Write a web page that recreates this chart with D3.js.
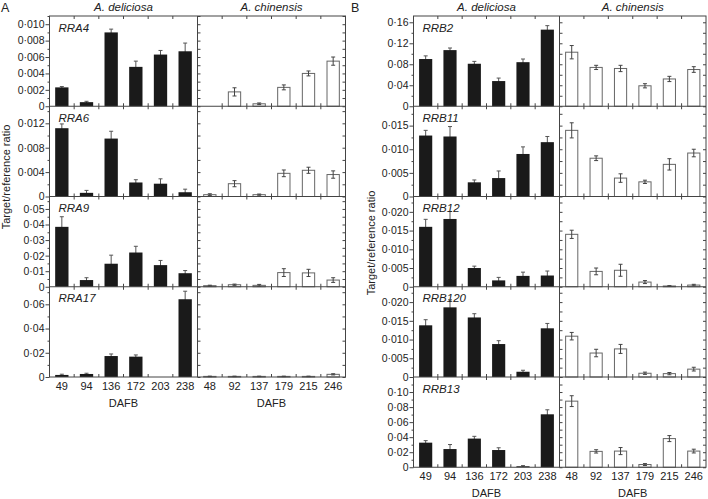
<!DOCTYPE html>
<html><head><meta charset="utf-8">
<script src="https://cdn.jsdelivr.net/npm/d3@7"></script>
<style>body{margin:0;background:#fff}svg{display:block;font-family:"Liberation Sans",Arial,sans-serif}</style>
</head><body><svg id="c" width="708" height="499"></svg>
<script>
// ---- data ----
const dafbDeliciosa = ["49","94","136","172","203","238"];
const dafbChinensis = ["48","92","137","179","215","246"];
const genesA = ["RRA4","RRA6","RRA9","RRA17"];
const genesB = ["RRB2","RRB11","RRB12","RRB120","RRB13"];

const rra4Del = [0.0023,0.0005,0.0090,0.0048,0.0063,0.0067];
const rra4DelErr = [0.0001,0.0001,0.0004,0.0007,0.0005,0.0010];
const rra4Chi = [0,0.00175,0.0003,0.0023,0.0040,0.0055];
const rra4ChiErr = [0,0.0005,0.0001,0.0003,0.0003,0.0005];
const rra6Del = [0.0112,0.0006,0.0095,0.0023,0.0021,0.0007];
const rra6DelErr = [0.0007,0.0004,0.0012,0.00045,0.0008,0.0005];
const rra6Chi = [0.0003,0.0021,0.0003,0.0038,0.0043,0.0036];
const rra6ChiErr = [0.00015,0.0005,0.0001,0.00055,0.0005,0.0006];
const rra9Del = [0.0385,0.0043,0.0148,0.0220,0.0139,0.0087];
const rra9DelErr = [0.0065,0.0015,0.0055,0.0040,0.0030,0.0017];
const rra9Chi = [0.0007,0.0013,0.0009,0.0091,0.0089,0.0043];
const rra9ChiErr = [0.0003,0.0004,0.0006,0.0025,0.0023,0.0015];
const rra17Del = [0.0017,0.0025,0.0173,0.0168,0,0.0642];
const rra17DelErr = [0.0006,0.0006,0.0017,0.0014,0,0.0066];
const rra17Chi = [0.0005,0.0005,0.0005,0.0005,0.0005,0.0022];
const rra17ChiErr = [0.0002,0.0002,0.0002,0.0002,0.0002,0.0005];

const rrb2Del = [0.090,0.107,0.081,0.048,0.084,0.146];
const rrb2DelErr = [0.006,0.004,0.0045,0.0057,0.006,0.0076];
const rrb2Chi = [0.103,0.074,0.072,0.039,0.052,0.070];
const rrb2ChiErr = [0.0127,0.004,0.006,0.004,0.005,0.0054];
const rrb11Del = [0.0129,0.0127,0.0030,0.0039,0.0090,0.0115];
const rrb11DelErr = [0.0011,0.0021,0.0005,0.0015,0.0015,0.0012];
const rrb11Chi = [0.0140,0.0081,0.0039,0.0031,0.0068,0.0092];
const rrb11ChiErr = [0.0016,0.0005,0.0009,0.00035,0.0012,0.0008];
const rrb12Del = [0.0160,0.0181,0.0050,0.0017,0.0029,0.0030];
const rrb12DelErr = [0.002,0.002,0.0005,0.0008,0.001,0.0012];
const rrb12Chi = [0.0140,0.0041,0.0044,0.00125,0.0002,0.00045];
const rrb12ChiErr = [0.0011,0.0009,0.0016,0.0004,0.0001,0.0002];
const rrb120Del = [0.0138,0.0186,0.0159,0.0088,0.0014,0.0130];
const rrb120DelErr = [0.0015,0.002,0.001,0.0009,0.0004,0.0013];
const rrb120Chi = [0.0109,0.0064,0.0075,0.0010,0.0009,0.0021];
const rrb120ChiErr = [0.001,0.001,0.0012,0.0003,0.0003,0.0005];
const rrb13Del = [0.0327,0.0242,0.0381,0.0229,0.0013,0.0704];
const rrb13DelErr = [0.0027,0.006,0.003,0.003,0.0009,0.006];
const rrb13Chi = [0.0879,0.0211,0.0215,0.0036,0.0381,0.0215];
const rrb13ChiErr = [0.0072,0.0022,0.0047,0.0013,0.004,0.0025];

// y-axis: domain max, major ticks, minor ticks, decimals
const yMaxA = [0.011,0.0148,0.058,0.0745];
const yMajorA = [[0,0.002,0.004,0.006,0.008,0.010],[0,0.004,0.008,0.012],[0,0.01,0.02,0.03,0.04,0.05],[0,0.02,0.04,0.06]];
const yMinorStepA = [0.001,0.002,0.005,0.01];
const yDecA = [3,3,2,2];
const yMaxB = [0.172,0.0191,0.0241,0.0241,0.12];
const yMajorB = [[0,0.04,0.08,0.12,0.16],[0,0.005,0.010,0.015],[0,0.005,0.010,0.015,0.020],[0,0.005,0.010,0.015,0.020],[0,0.02,0.04,0.06,0.08,0.10]];
const yMinorStepB = [0.02,0.0025,0.0025,0.0025,0.01];
const yDecB = [2,3,3,3,2];

const dataA = [[rra4Del,rra4DelErr,rra4Chi,rra4ChiErr],[rra6Del,rra6DelErr,rra6Chi,rra6ChiErr],[rra9Del,rra9DelErr,rra9Chi,rra9ChiErr],[rra17Del,rra17DelErr,rra17Chi,rra17ChiErr]];
const dataB = [[rrb2Del,rrb2DelErr,rrb2Chi,rrb2ChiErr],[rrb11Del,rrb11DelErr,rrb11Chi,rrb11ChiErr],[rrb12Del,rrb12DelErr,rrb12Chi,rrb12ChiErr],[rrb120Del,rrb120DelErr,rrb120Chi,rrb120ChiErr],[rrb13Del,rrb13DelErr,rrb13Chi,rrb13ChiErr]];

// ---- drawing ----
const svg = d3.select("#c");
const FRAME = "#444";
const fmt = dec => d => d === 0 ? "0" : d.toFixed(dec).replace(".", "\u00B7");

function panel(opt) {
  const {x0, xm, x1, top, rowH, genes, data, yMax, yMajor, yMinorStep, yDec, letter, letterX, ylabX, ylabY} = opt;
  const g = svg.append("g");
  const xD = d3.scaleBand().domain(dafbDeliciosa).range([x0, xm]).paddingInner(0.46).paddingOuter(0.23);
  const xC = d3.scaleBand().domain(dafbChinensis).range([xm, x1]).paddingInner(0.46).paddingOuter(0.23);
  const n = genes.length;
  const bottom = top + rowH * n;

  genes.forEach((gene, i) => {
    const yt = top + rowH * i, yb = yt + rowH;
    const y = d3.scaleLinear().domain([0, yMax[i]]).range([yb, yt]);
    const minors = d3.range(0, yMax[i] + 1e-9, yMinorStep[i]).filter(v => !yMajor[i].some(m => Math.abs(m - v) < 1e-9));
    const [dv, de, cv, ce] = data[i];

    // left axis major + labels
    g.append("g").attr("transform", `translate(${x0},0)`)
      .call(d3.axisLeft(y).tickValues(yMajor[i]).tickSize(4).tickPadding(1).tickFormat(fmt(yDec[i])))
      .call(a => a.select(".domain").remove())
      .call(a => a.selectAll("line").attr("stroke", FRAME))
      .call(a => a.selectAll("text").attr("font-size", 10.5).attr("fill", "#222").attr("font-family", "Liberation Sans, Arial, sans-serif"));
    g.append("g").attr("transform", `translate(${x0},0)`)
      .call(d3.axisLeft(y).tickValues(minors).tickSize(2).tickFormat(""))
      .call(a => a.select(".domain").remove())
      .call(a => a.selectAll("line").attr("stroke", FRAME));
    // divider ticks (into chinensis)
    g.append("g").attr("transform", `translate(${xm},0)`)
      .call(d3.axisRight(y).tickValues(yMajor[i].concat(minors)).tickSize(3).tickFormat(""))
      .call(a => a.select(".domain").remove())
      .call(a => a.selectAll("line").attr("stroke", FRAME));
    // right edge ticks
    g.append("g").attr("transform", `translate(${x1},0)`)
      .call(d3.axisLeft(y).tickValues(yMajor[i].concat(minors)).tickSize(3).tickFormat(""))
      .call(a => a.select(".domain").remove())
      .call(a => a.selectAll("line").attr("stroke", FRAME));

    // x boundary ticks top & bottom of subpanel
    [[xD, dafbDeliciosa], [xC, dafbChinensis]].forEach(([xs, cats]) => {
      const bounds = cats.slice(1).map(c => xs(c) - xs.step() * xs.paddingInner() / 2);
      bounds.forEach(bx => {
        g.append("line").attr("x1", bx).attr("x2", bx).attr("y1", yt).attr("y2", yt + 3).attr("stroke", FRAME);
        g.append("line").attr("x1", bx).attr("x2", bx).attr("y1", yb).attr("y2", yb - 3).attr("stroke", FRAME);
      });
    });

    // deliciosa: error bars first (hidden under black bars), then bars
    const cap = 2;
    const errG = g.append("g").attr("stroke", "#555").attr("stroke-width", 1);
    dafbDeliciosa.forEach((c, k) => {
      if (de[k] <= 0) return;
      const cx = xD(c) + xD.bandwidth() / 2;
      errG.append("line").attr("x1", cx).attr("x2", cx).attr("y1", y(dv[k] - de[k])).attr("y2", y(dv[k] + de[k]));
      errG.append("line").attr("x1", cx - cap).attr("x2", cx + cap).attr("y1", y(dv[k] + de[k])).attr("y2", y(dv[k] + de[k]));
    });
    g.append("g").selectAll("rect").data(dv).join("rect")
      .attr("x", (d, k) => xD(dafbDeliciosa[k])).attr("width", xD.bandwidth())
      .attr("y", d => y(d)).attr("height", d => y(0) - y(d))
      .attr("fill", "#1a1a1a");
    // chinensis: open bars then error bars
    g.append("g").selectAll("rect").data(cv).join("rect")
      .attr("x", (d, k) => xC(dafbChinensis[k]) + 0.5).attr("width", xC.bandwidth() - 1)
      .attr("y", d => y(d)).attr("height", d => y(0) - y(d))
      .attr("fill", "#fff").attr("stroke", "#666").attr("stroke-width", 1)
      .attr("display", d => d > 0 ? null : "none");
    const errC = g.append("g").attr("stroke", "#444").attr("stroke-width", 1);
    dafbChinensis.forEach((c, k) => {
      if (ce[k] <= 0) return;
      const cx = xC(c) + xC.bandwidth() / 2;
      const lo = y(Math.max(0, cv[k] - ce[k])), hi = y(cv[k] + ce[k]);
      errC.append("line").attr("x1", cx).attr("x2", cx).attr("y1", lo).attr("y2", hi);
      errC.append("line").attr("x1", cx - cap).attr("x2", cx + cap).attr("y1", hi).attr("y2", hi);
      errC.append("line").attr("x1", cx - cap).attr("x2", cx + cap).attr("y1", lo).attr("y2", lo);
    });

    // gene label
    g.append("text").attr("x", x0 + 9).attr("y", yt + 15.5).text(gene)
      .attr("font-size", 11.5).attr("font-style", "italic").attr("fill", "#222");
    // separator line
    if (i > 0) g.append("line").attr("x1", x0).attr("x2", x1).attr("y1", yt).attr("y2", yt).attr("stroke", FRAME);
  });

  // frame
  g.append("rect").attr("x", x0).attr("y", top).attr("width", x1 - x0).attr("height", bottom - top)
    .attr("fill", "none").attr("stroke", FRAME);
  g.append("line").attr("x1", xm).attr("x2", xm).attr("y1", top).attr("y2", bottom).attr("stroke", FRAME);

  // x tick labels
  [[xD, dafbDeliciosa], [xC, dafbChinensis]].forEach(([xs, cats]) => {
    g.append("g").selectAll("text").data(cats).join("text")
      .attr("x", c => xs(c) + xs.bandwidth() / 2).attr("y", bottom + 12.5)
      .attr("text-anchor", "middle").attr("font-size", 11).attr("fill", "#222").text(c => c);
    const r = xs.range();
    g.append("text").attr("x", (r[0] + r[1]) / 2).attr("y", bottom + 29.5)
      .attr("text-anchor", "middle").attr("font-size", 11).attr("fill", "#222").text("DAFB");
  });
  // titles
  g.append("text").attr("x", (x0 + xm) / 2).attr("y", 10.5).attr("text-anchor", "middle")
    .attr("font-size", 11.5).attr("font-style", "italic").attr("fill", "#222").text("A. deliciosa");
  g.append("text").attr("x", (xm + x1) / 2).attr("y", 10.5).attr("text-anchor", "middle")
    .attr("font-size", 11.5).attr("font-style", "italic").attr("fill", "#222").text("A. chinensis");
  // panel letter
  g.append("text").attr("x", letterX).attr("y", 11.5).attr("font-size", 12.5).attr("fill", "#222").text(letter);
  // y label
  g.append("text").attr("transform", `translate(${ylabX},${ylabY}) rotate(-90)`)
    .attr("text-anchor", "middle").attr("font-size", 11).attr("fill", "#222").text("Target/reference ratio");
}

panel({x0: 49.5, xm: 197.5, x1: 345.5, top: 16, rowH: 90.25, genes: genesA, data: dataA,
  yMax: yMaxA, yMajor: yMajorA, yMinorStep: yMinorStepA, yDec: yDecA, letter: "A", letterX: 1, ylabX: 10, ylabY: 177});
panel({x0: 413.5, xm: 559.5, x1: 706, top: 16, rowH: 90.25, genes: genesB, data: dataB,
  yMax: yMaxB, yMajor: yMajorB, yMinorStep: yMinorStepB, yDec: yDecB, letter: "B", letterX: 351, ylabX: 375, ylabY: 243});
</script></body></html>
